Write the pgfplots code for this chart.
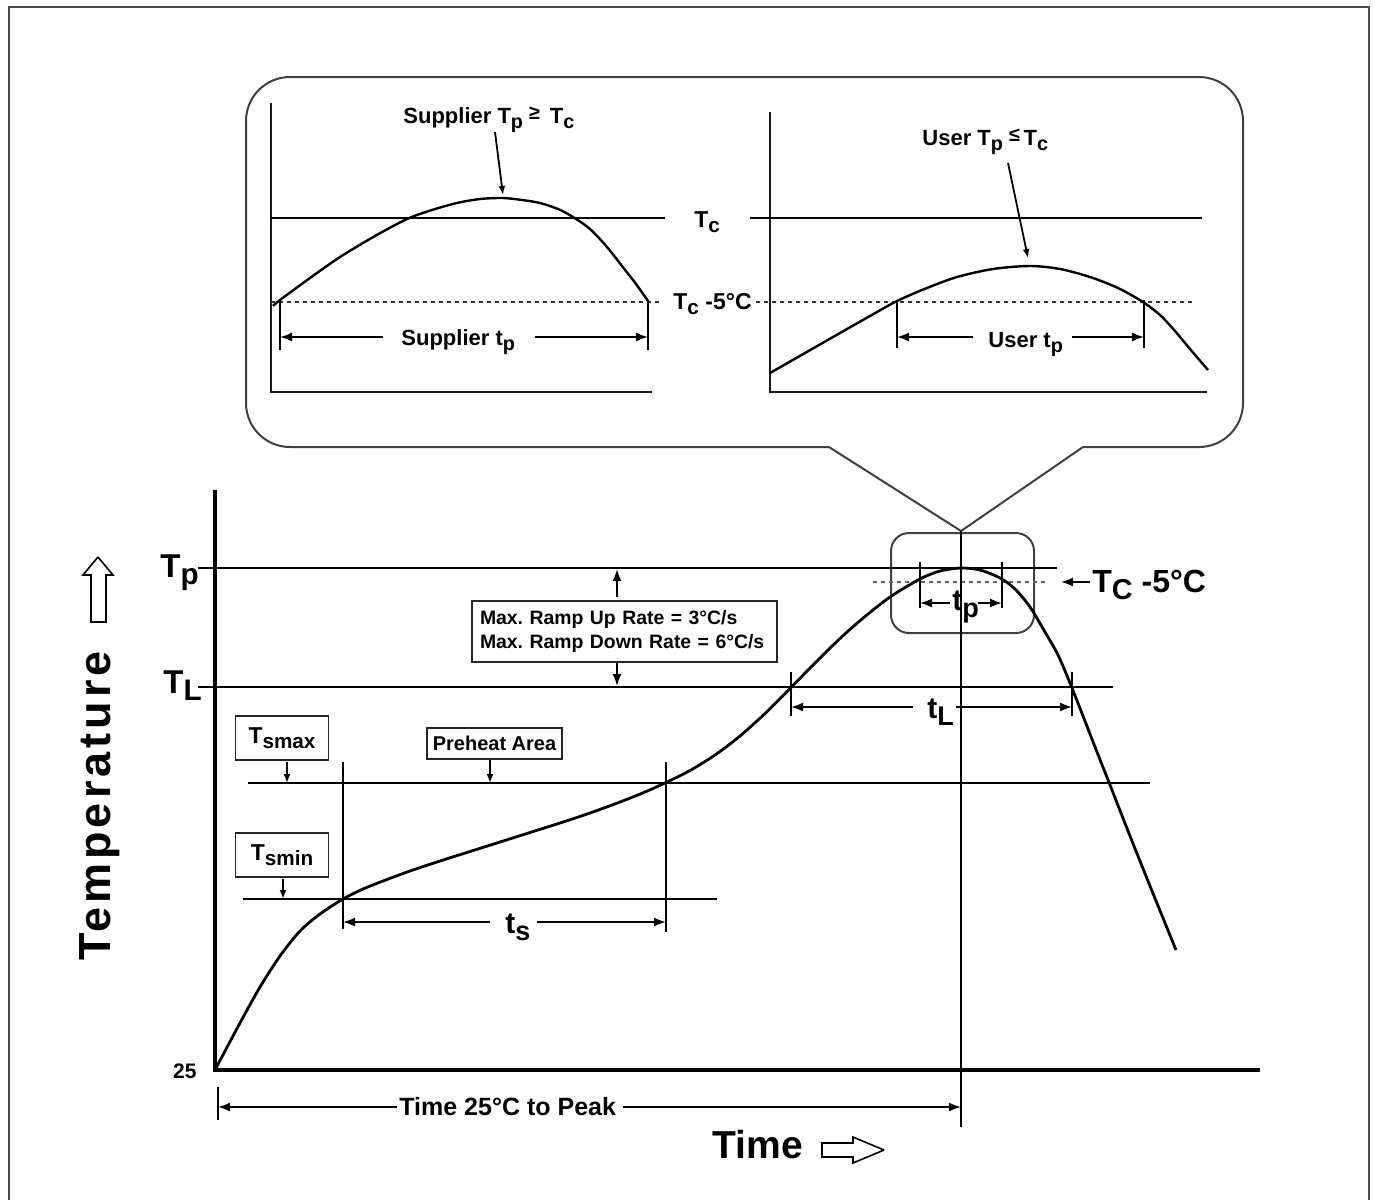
\documentclass[border=0pt]{standalone}
\usepackage{pgfplots}
\pgfplotsset{compat=1.18}
\usepackage{fontspec}
\setmainfont{Liberation Sans}
\usetikzlibrary{arrows.meta}

% subscript as in the datasheet figure: nearly full size, lowered
\newcommand{\sub}[1]{\raisebox{-0.45ex}{\scalebox{0.9}{#1}}}
\newcommand{\fs}[1]{\fontsize{#1}{#1}\selectfont\bfseries}

\tikzset{
  ln/.style={black, line width=0.9pt},
  crv/.style={black, line width=1.4pt},
  icrv/.style={black, line width=1.2pt},
  ax/.style={black, line width=2pt},
  iax/.style={black!90, line width=1.2pt},
  dots/.style={black!80, line width=0.9pt, dash pattern=on 2pt off 2pt},
  tipA/.tip={Latex[length=6pt,width=4.5pt]},
  tipS/.tip={Latex[length=4.5pt,width=3.5pt]},
  lbl/.style={inner sep=0pt, text=black},
  box/.style={draw=black!85, line width=0.9pt, inner sep=0pt, fill=white},
}

\begin{document}
\frenchspacing
\begin{tikzpicture}
\begin{axis}[
  width=687.5pt, height=600pt, scale only axis,
  xmin=0, xmax=1375, ymin=0, ymax=1200, y dir=reverse,
  hide axis, clip=false,
]
\coordinate (bl) at (axis cs:0,1200);
\coordinate (tr) at (axis cs:1375,0);

% outer frame
\addplot[black!70, line width=1pt] coordinates {(9,1200) (9,7) (1369,7) (1369,1200)};

% callout balloon and small zoom box
\draw[black!75, line width=1pt, rounded corners=22pt]
  (axis cs:829,447) -- (axis cs:246,447) -- (axis cs:246,77)
  -- (axis cs:1243,77) -- (axis cs:1243,447) -- (axis cs:1083,447);
\addplot[black!75, line width=1pt] coordinates {(829,447) (961,531) (1083,447)};
\draw[black!75, line width=1pt, rounded corners=9pt]
  (axis cs:891,533) rectangle (axis cs:1034,633);

% ---------- inset 1: supplier ----------
\addplot[iax] coordinates {(271,103) (271,392) (652,392)};
\addplot[ln, line width=1.1pt] coordinates {(271,218) (665,218)};
\addplot[dots] coordinates {(271,302) (662,302)};
\addplot[icrv, smooth] coordinates {
  (273,306) (280,300) (310,278) (340,257) (375,236) (407,219) (432,210)
  (457,203) (480,199) (503,198) (522,200) (540,203) (558,209) (573,217)
  (590,229) (607,247) (622,266) (636,284) (648,301)};
\addplot[ln] coordinates {(280,300) (280,350)};
\addplot[ln] coordinates {(648,300) (648,350)};
\addplot[ln, tipA-] coordinates {(280,337) (383,337)};
\addplot[ln, -tipA] coordinates {(535,337) (648,337)};
\addplot[ln, -tipS] coordinates {(495,132) (503,195)};

% ---------- inset 2: user ----------
\addplot[iax] coordinates {(770,112) (770,392) (1207,392)};
\addplot[ln, line width=1.1pt] coordinates {(750,218) (1202,218)};
\addplot[dots] coordinates {(756,302) (1193,302)};
\addplot[icrv, smooth] coordinates {
  (770,373) (805,353) (840,333) (870,316) (897,301) (927,288) (957,277)
  (993,269) (1030,266) (1060,269) (1090,277) (1118,288) (1143,302)
  (1160,315) (1175,331) (1190,349) (1208,370)};
\addplot[ln] coordinates {(897,300) (897,348)};
\addplot[ln] coordinates {(1144,300) (1144,348)};
\addplot[ln, tipA-] coordinates {(897,337) (973,337)};
\addplot[ln, -tipA] coordinates {(1072,337) (1144,337)};
\addplot[ln, -tipS] coordinates {(1008,163) (1028,258)};

% ---------- main profile ----------
\addplot[ax] coordinates {(215,490) (215,1071)};
\addplot[ax] coordinates {(213,1070) (1260,1070)};

\addplot[ln] coordinates {(198,568) (1057,568)};   % Tp
\addplot[ln] coordinates {(198,687) (1113,687)};   % TL
\addplot[ln] coordinates {(248,783) (1150,783)};   % Tsmax
\addplot[ln] coordinates {(243,899) (717,899)};    % Tsmin
\addplot[dots, black!60] coordinates {(873,582) (1045,582)}; % Tc-5

\addplot[ln] coordinates {(961,531) (961,1127)};
\addplot[ln] coordinates {(343,762) (343,929)};
\addplot[ln] coordinates {(666,762) (666,932)};
\addplot[ln] coordinates {(791,672) (791,716)};
\addplot[ln] coordinates {(1072,672) (1072,716)};
\addplot[ln] coordinates {(920,562) (920,608)};
\addplot[ln] coordinates {(1002,562) (1002,608)};
\addplot[ln] coordinates {(218,1087) (218,1120)};

\addplot[crv, smooth] coordinates {
  (216,1068) (240,1023) (260,987) (280,956) (300,931) (320,914) (343,899)
  (363,889) (383,881) (410,871) (440,861) (470,851.5) (500,842) (530,832.5)
  (560,823) (590,813) (620,802) (645,792) (666,782.5) (690,770.5) (715,755)
  (740,736) (765,713.5) (791,687.5) (815,663) (840,638.5) (862,619)
  (890,597) (920,579) (940,571) (961,568) (980,570) (1000,578) (1015,589)
  (1030,607) (1045,632) (1058,655) (1070,683) (1083,716) (1097,752)
  (1110,785) (1130,836) (1150,886) (1176,950)};

% dimension arrows
\addplot[ln, tipA-] coordinates {(343,922) (490,922)};
\addplot[ln, -tipA] coordinates {(537,922) (666,922)};
\addplot[ln, tipA-] coordinates {(791,707) (913,707)};
\addplot[ln, -tipA] coordinates {(956,707) (1072,707)};
\addplot[ln, tipA-] coordinates {(920,603) (950,603)};
\addplot[ln, -tipA] coordinates {(978,603) (1002,603)};
\addplot[ln, tipA-] coordinates {(218,1107) (397,1107)};
\addplot[ln, -tipA] coordinates {(623,1107) (961,1107)};
\addplot[ln, -tipA] coordinates {(617,597) (617,569)};
\addplot[ln, -tipA] coordinates {(617,662) (617,686)};
\addplot[ln, -tipS] coordinates {(287,762) (287,783)};
\addplot[ln, -tipS] coordinates {(283,879) (283,899)};
\addplot[ln, -tipS] coordinates {(490,760) (490,783)};
\addplot[ln, -tipA] coordinates {(1090,582) (1061,582)};

% hollow arrows next to the axis titles
\addplot[black, line width=0.8pt, fill=white] coordinates {
  (98,557) (113,575) (106,575) (106,622) (91,622) (91,575) (83,575) (98,557)};
\addplot[black, line width=0.8pt, fill=white] coordinates {
  (884,1150) (853,1137) (853,1143) (822,1143) (822,1157) (853,1157) (853,1163) (884,1150)};

% ---------- labels ----------
\node[lbl, anchor=base west, font=\fs{11pt}] at (axis cs:403,123)
  {Supplier T\sub{p} \raisebox{0.3ex}{\scalebox{0.9}{≥}} \,T\sub{c}};
\node[lbl, anchor=base west, font=\fs{11pt}] at (axis cs:922,145)
  {User T\sub{p} \raisebox{0.3ex}{\scalebox{0.9}{≤}}\,T\sub{c}};
\node[lbl, anchor=base west, font=\fs{11.5pt}] at (axis cs:694,227) {T\sub{c}};
\node[lbl, anchor=base west, font=\fs{11.5pt}] at (axis cs:673,309) {T\sub{c} -5°C};
\node[lbl, anchor=base west, font=\fs{11pt}] at (axis cs:401,345) {Supplier t\sub{p}};
\node[lbl, anchor=base west, font=\fs{11pt}] at (axis cs:988,347) {User t\sub{p}};

\node[lbl, anchor=base west, font=\fs{16.5pt}] at (axis cs:160,577) {T\sub{p}};
\node[lbl, anchor=base west, font=\fs{16.5pt}] at (axis cs:163,693) {T\sub{L}};
\node[lbl, anchor=base east, font=\fs{10.5pt}] at (axis cs:197,1078) {25};

\node[box, minimum width=46.5pt, minimum height=22pt, font=\fs{11.5pt}]
  at (axis cs:282,738) {T\sub{smax}};
\node[box, minimum width=46.5pt, minimum height=22pt, font=\fs{11.5pt}]
  at (axis cs:282,855) {T\sub{smin}};
\node[box, minimum width=67.5pt, minimum height=15.5pt, font=\fs{10pt}]
  at (axis cs:494.5,743.5) {Preheat Area};
\node[box, text width=144.5pt, inner xsep=4pt, minimum height=30.5pt, align=left,
  font=\fontsize{9.7pt}{12pt}\selectfont\bfseries]
  at (axis cs:624.5,631.5) {Max. Ramp Up Rate = 3°C/s\\Max. Ramp Down Rate = 6°C/s};

\node[lbl, anchor=base west, font=\fs{15pt}] at (axis cs:505,933) {t\sub{s}};
\node[lbl, anchor=base west, font=\fs{15pt}] at (axis cs:927,718) {t\sub{L}};
\node[lbl, anchor=base west, font=\fs{15pt}] at (axis cs:952,610) {t\sub{p}};
\node[lbl, anchor=base west, font=\fs{16pt}] at (axis cs:1092,592) {T\sub{C} -5°C};

\node[lbl, anchor=base west, font=\fs{12.5pt}] at (axis cs:399,1115) {Time 25°C to Peak};
\node[lbl, anchor=base west, font=\fs{19.5pt}] at (axis cs:712,1158) {Time};
\node[lbl, anchor=base, rotate=90, font=\fs{22.5pt}\addfontfeatures{LetterSpace=9}]
  at (axis cs:110,806) {Temperature};
\end{axis}
\pgfresetboundingbox
\path[use as bounding box] (bl) rectangle (tr);
\end{tikzpicture}
\end{document}
